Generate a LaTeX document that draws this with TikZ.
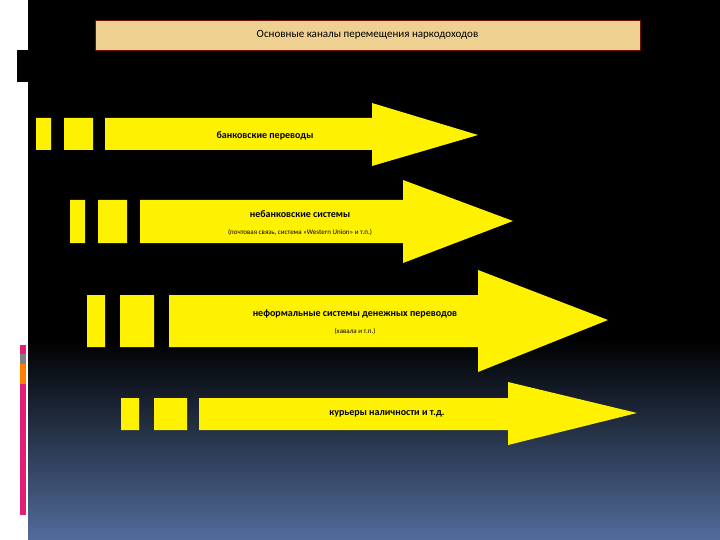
\documentclass[tikz,border=0pt]{standalone}
\usepackage{fontspec}
\setmainfont{Carlito}
\definecolor{bgblue}{RGB}{82,108,155}
\definecolor{barpink}{RGB}{225,30,120}
\definecolor{ttlborder}{RGB}{110,20,0}
\definecolor{ttlfill}{RGB}{238,208,145}
\begin{document}
\begin{tikzpicture}[x=1pt,y=-1pt,
  ylw/.style={fill=yellow,draw=none},
  lbl/.style={font=\bfseries\fontsize{10}{12}\selectfont,inner sep=0pt},
  sub/.style={font=\fontsize{7}{8}\selectfont,inner sep=0pt}]
\useasboundingbox (0,0) rectangle (720,540);
\fill[white] (0,0) rectangle (720,540);
\fill[black] (28,0) rectangle (720,340);
\shade[top color=black,bottom color=bgblue] (28,340) rectangle (720,540);
\fill[black] (17,50) rectangle (28,82);
\fill[barpink] (20,345) rectangle (26,515);
\fill[gray] (20,354) rectangle (26,364);
\fill[orange] (20,364) rectangle (26,384);
\node[draw=ttlborder,fill=ttlfill,minimum width=545,minimum height=30,inner sep=0pt,font=\fontsize{11}{13}\selectfont] (title) at (367.5,35) {Основные каналы перемещения наркодоходов};
% arrow 1
\fill[ylw] (36,118) rectangle (51,150) (64,118) rectangle (93,150);
\fill[ylw] (105,118) -- (372,118) -- (372,103) -- (478,135) -- (372,166) -- (372,150) -- (105,150) -- cycle;
\node[lbl] (a1) at (265,136) {банковские переводы};
% arrow 2
\fill[ylw] (70,200) rectangle (85,243) (98,200) rectangle (127,243);
\fill[ylw] (140,200) -- (403,200) -- (403,180) -- (513,221) -- (403,263) -- (403,243) -- (140,243) -- cycle;
\node[lbl] (a2) at (300,214) {небанковские системы};
\node[sub] (a2s) at (300,232) {(почтовая связь, система «Western Union» и т.п.)};
% arrow 3
\fill[ylw] (87,295) rectangle (105,347) (120,295) rectangle (154,347);
\fill[ylw] (169,295) -- (478,295) -- (478,270) -- (608,320) -- (478,372) -- (478,347) -- (169,347) -- cycle;
\node[lbl] (a3) at (355,314) {неформальные системы денежных переводов};
\node[sub] (a3s) at (355,331) {(хавала и т.п.)};
% arrow 4
\fill[ylw] (121,398) rectangle (139,430) (154,398) rectangle (187,430);
\fill[ylw] (199,398) -- (508,398) -- (508,382) -- (637,413) -- (508,445) -- (508,430) -- (199,430) -- cycle;
\node[lbl] (a4) at (387,414) {курьеры наличности и т.д.};
\end{tikzpicture}
\end{document}
